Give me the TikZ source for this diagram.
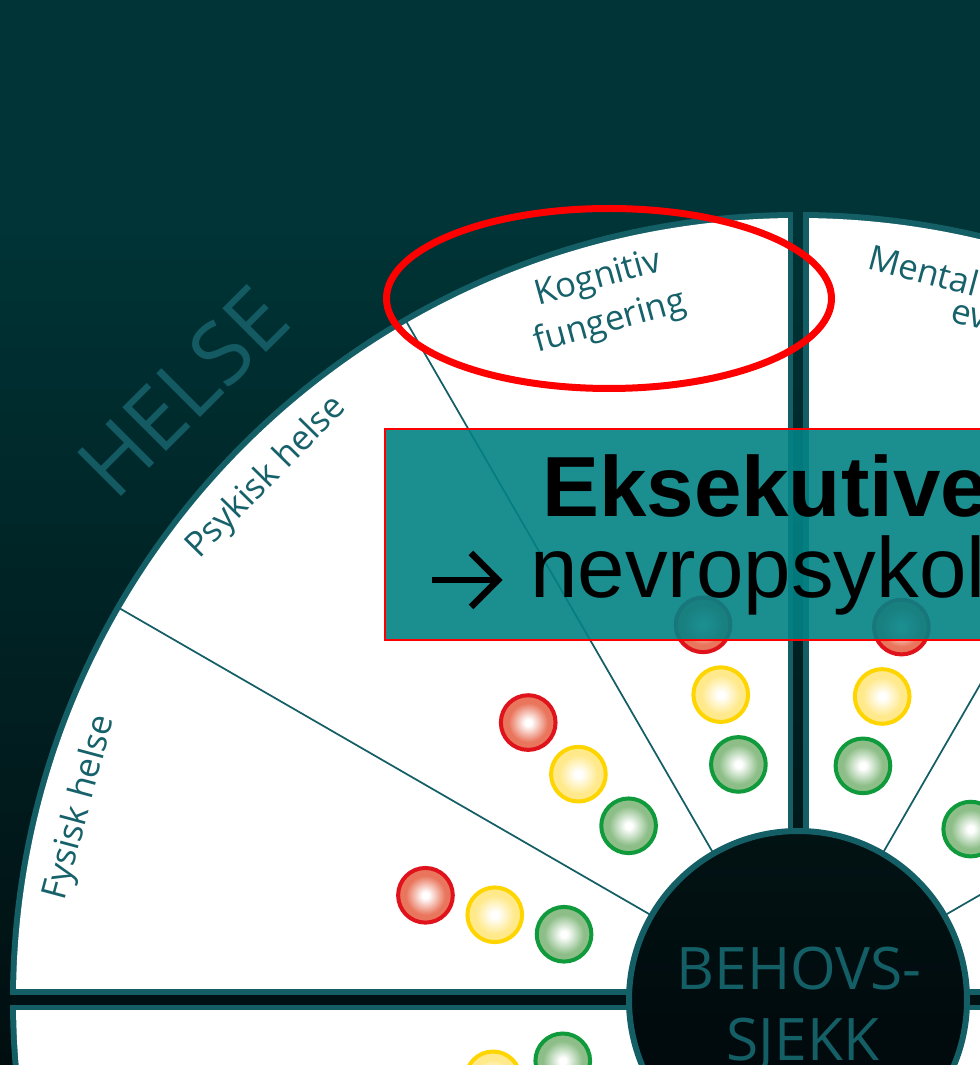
\documentclass[tikz,border=0pt]{standalone}
\usepackage{fontspec}
\setmainfont{Liberation Sans}
\newfontfamily\wheelfont{Open Sans}
\usetikzlibrary{calc}

\definecolor{bgtop}{HTML}{003436}
\definecolor{bgbot}{HTML}{010E10}
\definecolor{rim}{HTML}{145E66}
\definecolor{hubtop}{HTML}{021314}
\definecolor{hubbot}{HTML}{000509}
\definecolor{labelteal}{HTML}{16616A}
\definecolor{helseteal}{HTML}{135A62}
\definecolor{boxteal}{HTML}{038285}
\definecolor{redring}{HTML}{E0121C}
\definecolor{redfill}{HTML}{E9755C}
\definecolor{yelring}{HTML}{FFD500}
\definecolor{yelfill}{HTML}{FFE98A}
\definecolor{grnring}{HTML}{0F9A3C}
\definecolor{grnfill}{HTML}{8DBE88}

\pgfdeclareradialshading{lampred}{\pgfpoint{0bp}{0bp}}{color(0bp)=(white); color(3bp)=(white); color(18bp)=(redfill); color(50bp)=(redfill)}
\pgfdeclareradialshading{lampyel}{\pgfpoint{0bp}{0bp}}{color(0bp)=(white); color(3bp)=(white); color(18bp)=(yelfill); color(50bp)=(yelfill)}
\pgfdeclareradialshading{lampgrn}{\pgfpoint{0bp}{0bp}}{color(0bp)=(white); color(3bp)=(white); color(18bp)=(grnfill); color(50bp)=(grnfill)}

\begin{document}
\begin{tikzpicture}[x=0.75pt,y=0.75pt,
  lamp/.style={circle, minimum size=41pt, inner sep=0pt, line width=3pt, shade},
  redlamp/.style={lamp, draw=redring, shading=lampred},
  yellamp/.style={lamp, draw=yelring, shading=lampyel},
  grnlamp/.style={lamp, draw=grnring, shading=lampgrn},
  spoke/.style={draw=rim, line width=1.3pt},
  seglabel/.style={text=labelteal, font=\wheelfont\fontsize{26}{34}\selectfont, inner sep=0pt, align=center},
  hubtext/.style={text=rim, font=\wheelfont\fontsize{44}{50}\selectfont, inner sep=0pt},
  infotext/.style={text=black, inner sep=0pt, anchor=base west},
]
\useasboundingbox (0,0) rectangle (980,1065);
\clip (0,0) rectangle (980,1065);

% background
\fill[bgtop] (0,840) rectangle (980,1065);
\shade[top color=bgtop, bottom color=bgbot] (0,0) rectangle (980,841);

\coordinate (C) at (798,65);

% quadrant frames: teal band, then white face, the gaps between them stay open
\begin{scope}
  \clip (C) circle (788);
  \fill[rim] ($(C)+(-800,5)$) rectangle ($(C)+(-5,800)$);
  \fill[rim] ($(C)+(5,5)$) rectangle ($(C)+(800,800)$);
  \fill[rim] ($(C)+(-800,-5)$) rectangle ($(C)+(-5,-800)$);
  \fill[rim] ($(C)+(5,-5)$) rectangle ($(C)+(800,-800)$);
\end{scope}
\begin{scope}
  \clip (C) circle (782);
  \fill[white] ($(C)+(-800,10.5)$) rectangle ($(C)+(-10.5,800)$);
  \fill[white] ($(C)+(10.5,10.5)$) rectangle ($(C)+(800,800)$);
  \fill[white] ($(C)+(-800,-10.5)$) rectangle ($(C)+(-10.5,-800)$);
  \fill[white] ($(C)+(10.5,-10.5)$) rectangle ($(C)+(800,-800)$);
\end{scope}

% sector spokes
\foreach \a in {30,60,120,150}{
  \coordinate (in\a) at ($(C)+(\a:170)$);
  \coordinate (out\a) at ($(C)+(\a:783)$);
  \draw[spoke] (in\a) -- (out\a);
}

% traffic lights
\node[redlamp] (fysR) at ($(C)+(164.3:387)$) {};
\node[yellamp] (fysY) at ($(C)+(164.3:315)$) {};
\node[grnlamp] (fysG) at ($(C)+(164.3:243)$) {};
\node[redlamp] (psyR) at ($(C)+(134.2:387)$) {};
\node[yellamp] (psyY) at ($(C)+(134.2:315)$) {};
\node[grnlamp] (psyG) at ($(C)+(134.2:243)$) {};
\node[redlamp] (kogR) at ($(C)+(104.2:387)$) {};
\node[yellamp] (kogY) at ($(C)+(104.2:315)$) {};
\node[grnlamp] (kogG) at ($(C)+(104.2:243)$) {};
\node[redlamp] (menR) at ($(C)+(74.5:387)$) {};
\node[yellamp] (menY) at ($(C)+(74.5:315)$) {};
\node[grnlamp] (menG) at ($(C)+(74.5:243)$) {};
\node[grnlamp] (q45G) at ($(C)+(44.7:243)$) {};
\node[yellamp] (lowY) at ($(C)+(194.5:315)$) {};
\node[grnlamp] (lowG) at ($(C)+(194.5:243)$) {};

% hub
\node[circle, minimum size=253.5pt, inner sep=0pt, draw=rim, line width=4.5pt,
      top color=hubtop, bottom color=hubbot] (hub) at (C) {};
\node[hubtext, anchor=base] (behovs) at (799,75) {BEHOVS-};
\node[hubtext, anchor=base] (sjekk) at (803,5) {SJEKK};

% sector labels
\node[seglabel, rotate=75] (fysisk) at ($(C)+(165:743)$) {Fysisk helse};
\node[seglabel, rotate=45.5] (psykisk) at ($(C)+(135.5:745)$) {Psykisk helse};
\node[seglabel, rotate=15.5] (kognitiv) at ($(C)+(105.5:725)$) {Kognitiv\\fungering};
\node[seglabel, anchor=base west, rotate=-15] (mental) at (866,797) {Mental};
\node[seglabel, anchor=base west, rotate=-15] (evne) at (949,744) {ev};

% area heading
\node[text=helseteal, font=\wheelfont\fontsize{65}{70}\selectfont, inner sep=0pt, rotate=45]
  (helse) at ($(C)+(135.3:865)$) {HELSE};

% call-out box
\path[fill=boxteal, fill opacity=0.9, draw=red, line width=1.2pt] (385,636) rectangle (1000,425);
\node[infotext, font=\bfseries\fontsize{64}{70}\selectfont] (eks) at (542,548) {Eksekutive};
\coordinate (arrowtail) at (432,485);
\coordinate (arrowtip) at (498,485);
\draw[line width=4.8pt] (arrowtail) -- ($(arrowtip)+(-3,0)$);
\draw[line width=4.8pt, miter limit=10] ($(arrowtip)+(-27,27)$) -- (arrowtip) -- ($(arrowtip)+(-27,-27)$);
\node[infotext, font=\fontsize{64}{70}\selectfont] (nevro) at (530,467) {nevropsykol};

% highlight ring
\draw[red, line width=5.25pt] (609,766.5) ellipse [x radius=222.5, y radius=90];
\end{tikzpicture}
\end{document}
